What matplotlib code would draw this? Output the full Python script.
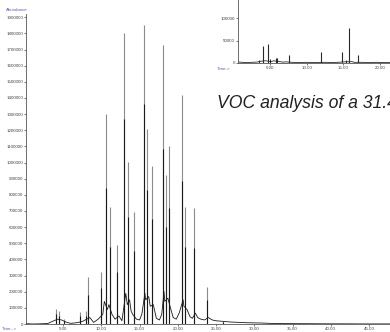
import matplotlib.pyplot as plt
from matplotlib.ticker import FormatStrFormatter

# main chromatogram: peak retention times (min) and abundances of two overlaid runs
peak_t = [4.1, 4.5, 5.1, 7.2, 8.0, 8.2, 10.0, 10.6, 11.15, 12.05, 13.0, 13.5, 14.3,
          15.55, 16.0, 16.6, 18.07, 18.5, 18.9, 20.5, 20.95, 22.1, 23.8, 25.9]
peak_gray = [90000, 80000, 30000, 75000, 80000, 290000, 320000, 1300000, 726000,
             490000, 1800000, 1006000, 695000, 1850000, 1207000, 980000, 1725000,
             920000, 1100000, 1420000, 725000, 720000, 230000, 20000]
peak_black = [60000, 50000, 20000, 50000, 50000, 180000, 220000, 840000, 480000,
              320000, 1270000, 660000, 450000, 1360000, 830000, 650000, 1085000,
              600000, 720000, 885000, 480000, 470000, 150000, 15000]

# baseline / peak feet of the main trace
base_t = [0.2, 1.0, 2.0, 3.0, 3.8, 4.3, 4.8, 5.5, 6.0, 6.8, 7.5, 8.5, 9.0, 9.6,
          10.2, 10.4, 10.8, 11.0, 11.4, 11.8, 12.3, 12.7, 13.2, 13.4, 13.7, 13.9,
          14.1, 14.6, 15.0, 15.3, 15.7, 15.8, 16.2, 16.4, 16.8, 17.2, 17.6, 17.9,
          18.2, 18.3, 18.7, 19.1, 19.4, 19.8, 20.2, 20.7, 20.8, 21.2, 21.6, 21.9,
          22.3, 22.6, 23.0, 23.5, 24.0, 24.5, 25.0, 26.0, 27.0, 28.0, 29.0, 30.0,
          31.0, 32.0, 33.0, 34.0, 36.0, 38.0, 40.0, 42.0, 44.0, 46.0, 47.7]
base_y = [2000, 0, 1000, 3000, 20000, 30000, 25000, 10000, 4000, 8000, 15000,
          40000, 10000, 30000, 60000, 140000, 90000, 120000, 60000, 30000, 50000,
          20000, 190000, 120000, 150000, 80000, 60000, 30000, 25000, 60000, 190000,
          150000, 170000, 110000, 120000, 35000, 25000, 60000, 200000, 140000,
          160000, 90000, 40000, 30000, 70000, 150000, 110000, 90000, 45000, 35000,
          67000, 40000, 30000, 25000, 40000, 25000, 20000, 16000, 12000, 10000,
          8000, 7000, 6000, 4000, 3000, 2500, 2000, 1500, 1000, 1000, 500, 500, 500]

# inset (zoomed) trace
inset_t = [3.5, 4.1, 4.7, 5.0, 5.8, 6.0, 7.6, 12.0, 14.8, 15.4, 15.8, 17.0]
inset_h = [6000, 37000, 43000, 10000, 11000, 12000, 18000, 24000, 25000, 7000,
           78000, 18000]
inset_bt = [0.6, 1.5, 2.5, 3.2, 3.8, 4.4, 5.2, 5.5, 6.3, 6.8, 7.2, 8.0, 9.0, 10.0,
            11.0, 12.5, 13.5, 14.3, 15.0, 16.2, 16.5, 17.5, 18.5, 19.5, 20.5, 21.4]
inset_by = [2500, 1000, 1500, 2000, 4000, 5000, 3000, 5000, 3000, 2000, 2500, 1500,
            1000, 1500, 1000, 1500, 1000, 1500, 2500, 3000, 1500, 1500, 1000, 1500,
            1000, 1000]

y_ticks = list(range(0, 2000000, 100000))
x_ticks = [5, 10, 15, 20, 25, 30, 35, 40, 45]
inset_xticks = [5, 10, 15, 20]
inset_yticks = [0, 50000, 100000]

W, H = 390, 332
fig = plt.figure(figsize=(W / 100, H / 100), dpi=100)
fig.patch.set_facecolor('white')
plt.rcParams['font.family'] = ['Liberation Sans', 'DejaVu Sans']

tick_col = '#444444'
lab_col = '#5a5ac8'


def style(a):
    for s in ['top', 'right']:
        a.spines[s].set_visible(False)
    for s in ['left', 'bottom']:
        a.spines[s].set_color('#555555')
        a.spines[s].set_linewidth(0.6)
    a.tick_params(direction='out', length=1.5, width=0.5, labelsize=3.2,
                  colors=tick_col, pad=0.5)
    a.xaxis.set_major_formatter(FormatStrFormatter('%.2f'))
    a.yaxis.set_major_formatter(FormatStrFormatter('%d'))


ax = fig.add_axes([26 / W, 8 / H, 1 - 26 / W, (324 - 14) / H])
ax.vlines(peak_t, 0, peak_gray, color='#8c8c8c', lw=0.8)
ax.vlines(peak_t, 0, peak_black, color='#1a1a1a', lw=0.8)
ax.plot(base_t, base_y, color='#1a1a1a', lw=0.6)
ax.set_xlim(0.16, 47.74)
ax.set_ylim(0, 1920000)
ax.set_xticks(x_ticks)
ax.set_yticks(y_ticks)
style(ax)

ax2 = fig.add_axes([238 / W, (H - 63) / H, 1 - 238 / W, 63 / H])
ax2.set_facecolor('white')
ax2.vlines(inset_t, 0, inset_h, color='#2a2a2a', lw=0.8)
ax2.plot(inset_bt, inset_by, color='#2a2a2a', lw=0.6)
ax2.set_xlim(0.64, 21.38)
ax2.set_ylim(0, 140000)
ax2.set_xticks(inset_xticks)
ax2.set_yticks(inset_yticks)
style(ax2)

fig.text(6 / W, 1 - 10 / H, 'Abundance', fontsize=3.2, color=lab_col, va='center')
fig.text(2 / W, 1 - 328.5 / H, 'Time-->', fontsize=3.2, color=lab_col, va='center')
fig.text(217 / W, 1 - 69 / H, 'Time->', fontsize=3.2, color=lab_col, va='center')

fig.text(217 / W, 1 - 107.7 / H, 'VOC analysis of a 31.4', fontsize=12.7,
         style='italic', color='#222222', va='baseline')

fig.savefig('out.png', dpi=100, facecolor='white')
